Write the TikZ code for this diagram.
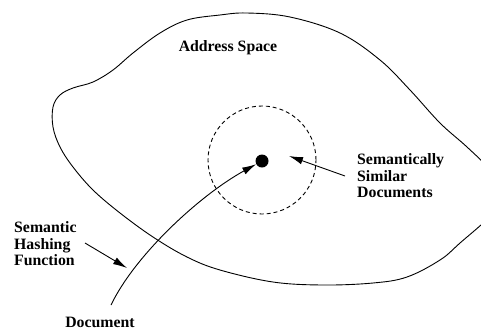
\documentclass[tikz,border=0pt]{standalone}
\usepackage{fontspec}
\setmainfont{Liberation Serif}
\usetikzlibrary{arrows.meta}
\begin{document}
\begin{tikzpicture}[x=1pt,y=-1pt,
  line/.style={line width=0.9pt},
  arr/.style={line, -{Latex[length=14pt,width=7.5pt]}},
  lbl/.style={inner sep=0pt, font=\fontsize{15.8}{16.7}\selectfont\bfseries, align=left}]
\useasboundingbox (0,0) rectangle (481,330);
\begin{scope}
\clip (0,0) rectangle (481,330);
\draw[line] plot[smooth cycle, tension=0.6] coordinates {
 (247,13) (290,17) (340,33) (380,60) (410,90) (440,123) (467,147) (490,170)
 (502,192) (492,214) (460,243) (440,260) (407,277) (373,283) (323,285) (273,282)
 (220,270) (187,257) (153,237) (120,213) (93,190) (73,167) (60,147)
 (53,127) (53,107) (60,95) (73,88) (93,82) (113,70) (133,53) (160,33)
 (187,20) (220,15)};
\end{scope}
\node[circle, fill, inner sep=0pt, minimum size=13pt] (dot) at (262,161) {};
\node[circle, draw, line, dash pattern=on 4pt off 3pt, inner sep=0pt, minimum size=108pt] (sim) at (262,160) {};
\node[lbl, anchor=base] (addr) at (228,51) {Address Space};
\node[lbl, anchor=base west] (simtxt) at (357,197.9) {Semantically\\Similar\\Documents};
\node[lbl, anchor=base west] (hash) at (14,265.7) {Semantic\\Hashing\\Function};
\node[lbl, anchor=base] (doc) at (100,327) {Document};
\coordinate (d0) at (111,305);
\coordinate (h0) at (85,243);
\coordinate (h1) at (127,268);
\coordinate (s0) at (345,176);
\coordinate (s1) at (289,156);
\draw[arr] (d0) .. controls (135,255) and (200,195) .. (dot);
\draw[arr] (h0) -- (h1);
\draw[arr] (s0) -- (s1);
\end{tikzpicture}
\end{document}
